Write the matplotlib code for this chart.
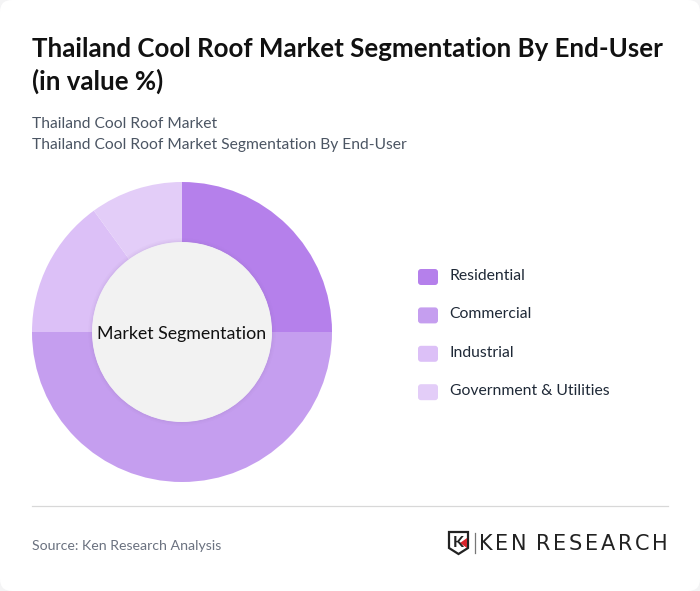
import matplotlib
matplotlib.use("Agg")
import matplotlib.pyplot as plt
from matplotlib.patches import FancyBboxPatch, Circle, Polygon

plt.rcParams["font.family"] = ["Lato", "DejaVu Sans"]

W, H = 700, 591

title_lines = ["Thailand Cool Roof Market Segmentation By End-User", "(in value %)"]
subtitle_lines = ["Thailand Cool Roof Market", "Thailand Cool Roof Market Segmentation By End-User"]
categories = ["Residential", "Commercial", "Industrial", "Government & Utilities"]
values = [25, 50, 15, 10]
colors = ["#B580EB", "#C59EEF", "#DCC0F7", "#E3CDF8"]
center_label = "Market Segmentation"
source = "Source: Ken Research Analysis"
logo_text = "KEN RESEARCH"

fig = plt.figure(figsize=(W / 100, H / 100), dpi=100, facecolor="#F4F4F5")

# page layer, works in pixels with y going down
bg = fig.add_axes([0, 0, 1, 1])
bg.set_xlim(0, W)
bg.set_ylim(H, 0)
bg.axis("off")
bg.add_patch(FancyBboxPatch((0, 0), W, H, boxstyle="round,pad=0,rounding_size=12",
                            fc="white", ec="none"))

for line, y in zip(title_lines, [49, 81]):
    bg.text(32, y, line, fontsize=18.68, fontweight="bold", color="#111111", va="center")
for line, y in zip(subtitle_lines, [123.5, 144.5]):
    bg.text(32, y, line, fontsize=11.27, color="#4B5563", va="center")

# legend
for i, (cat, col) in enumerate(zip(categories, colors)):
    y = 277 + i * 38.4
    bg.add_patch(FancyBboxPatch((418, y - 8), 20, 16, boxstyle="round,pad=0,rounding_size=3",
                                fc=col, ec="none"))
    bg.text(449.5, y - 1, cat, fontsize=11.33, color="#1F2937", va="center")

bg.plot([32, 668], [506, 506], color="#D8D8D8", lw=0.9)
bg.text(32, 546, source, fontsize=10.2, color="#6B7280", va="center")

# logo
bg.add_patch(Polygon([(449, 532), (468, 532), (468, 548), (458.5, 554), (449, 548)],
                     closed=True, fc="white", ec="#222222", lw=1.6))
bg.text(458, 543, "K", fontsize=11.5, fontweight="bold", color="#222222", ha="center", va="center")
bg.add_patch(Polygon([(467, 538), (467, 548), (460, 543)], closed=True, fc="#D8232A", ec="none"))
bg.plot([474.5, 474.5], [533, 553], color="#777777", lw=0.9)

# letters placed one by one so the logo text fills its 189 px width
renderer = fig.canvas.get_renderer()
letters = [bg.text(479, 543.5, ch, fontsize=15, family="DejaVu Sans", color="#222222", va="center")
           for ch in logo_text]
widths = [t.get_window_extent(renderer).width if t.get_text() != " " else 3 for t in letters]
gap = (189 - sum(widths)) / (len(letters) - 1)
x = 479.0
for t, w in zip(letters, widths):
    t.set_x(x)
    x += w + gap

# donut
ax = fig.add_axes([32 / W, 1 - 482 / H, 300 / W, 300 / H])
ax.pie(values, colors=colors, startangle=90, counterclock=False, radius=1,
       wedgeprops={"width": 0.4, "linewidth": 0})
ax.set_xlim(-1, 1)
ax.set_ylim(-1, 1)
ax.set_aspect("equal")
ax.axis("off")
ax.patch.set_alpha(0)
for r, a in [(0.625, 0.03), (0.615, 0.04), (0.607, 0.05)]:
    ax.add_patch(Circle((0, 0), r, fc="#8A6AAE", ec="none", alpha=a))
ax.add_patch(Circle((0, 0), 0.598, fc="#F2F2F2", ec="none"))
ax.text(0, -0.012, center_label, fontsize=12.8, color="#111111", ha="center", va="center")

fig.savefig("out.png", dpi=100, facecolor=fig.get_facecolor())
